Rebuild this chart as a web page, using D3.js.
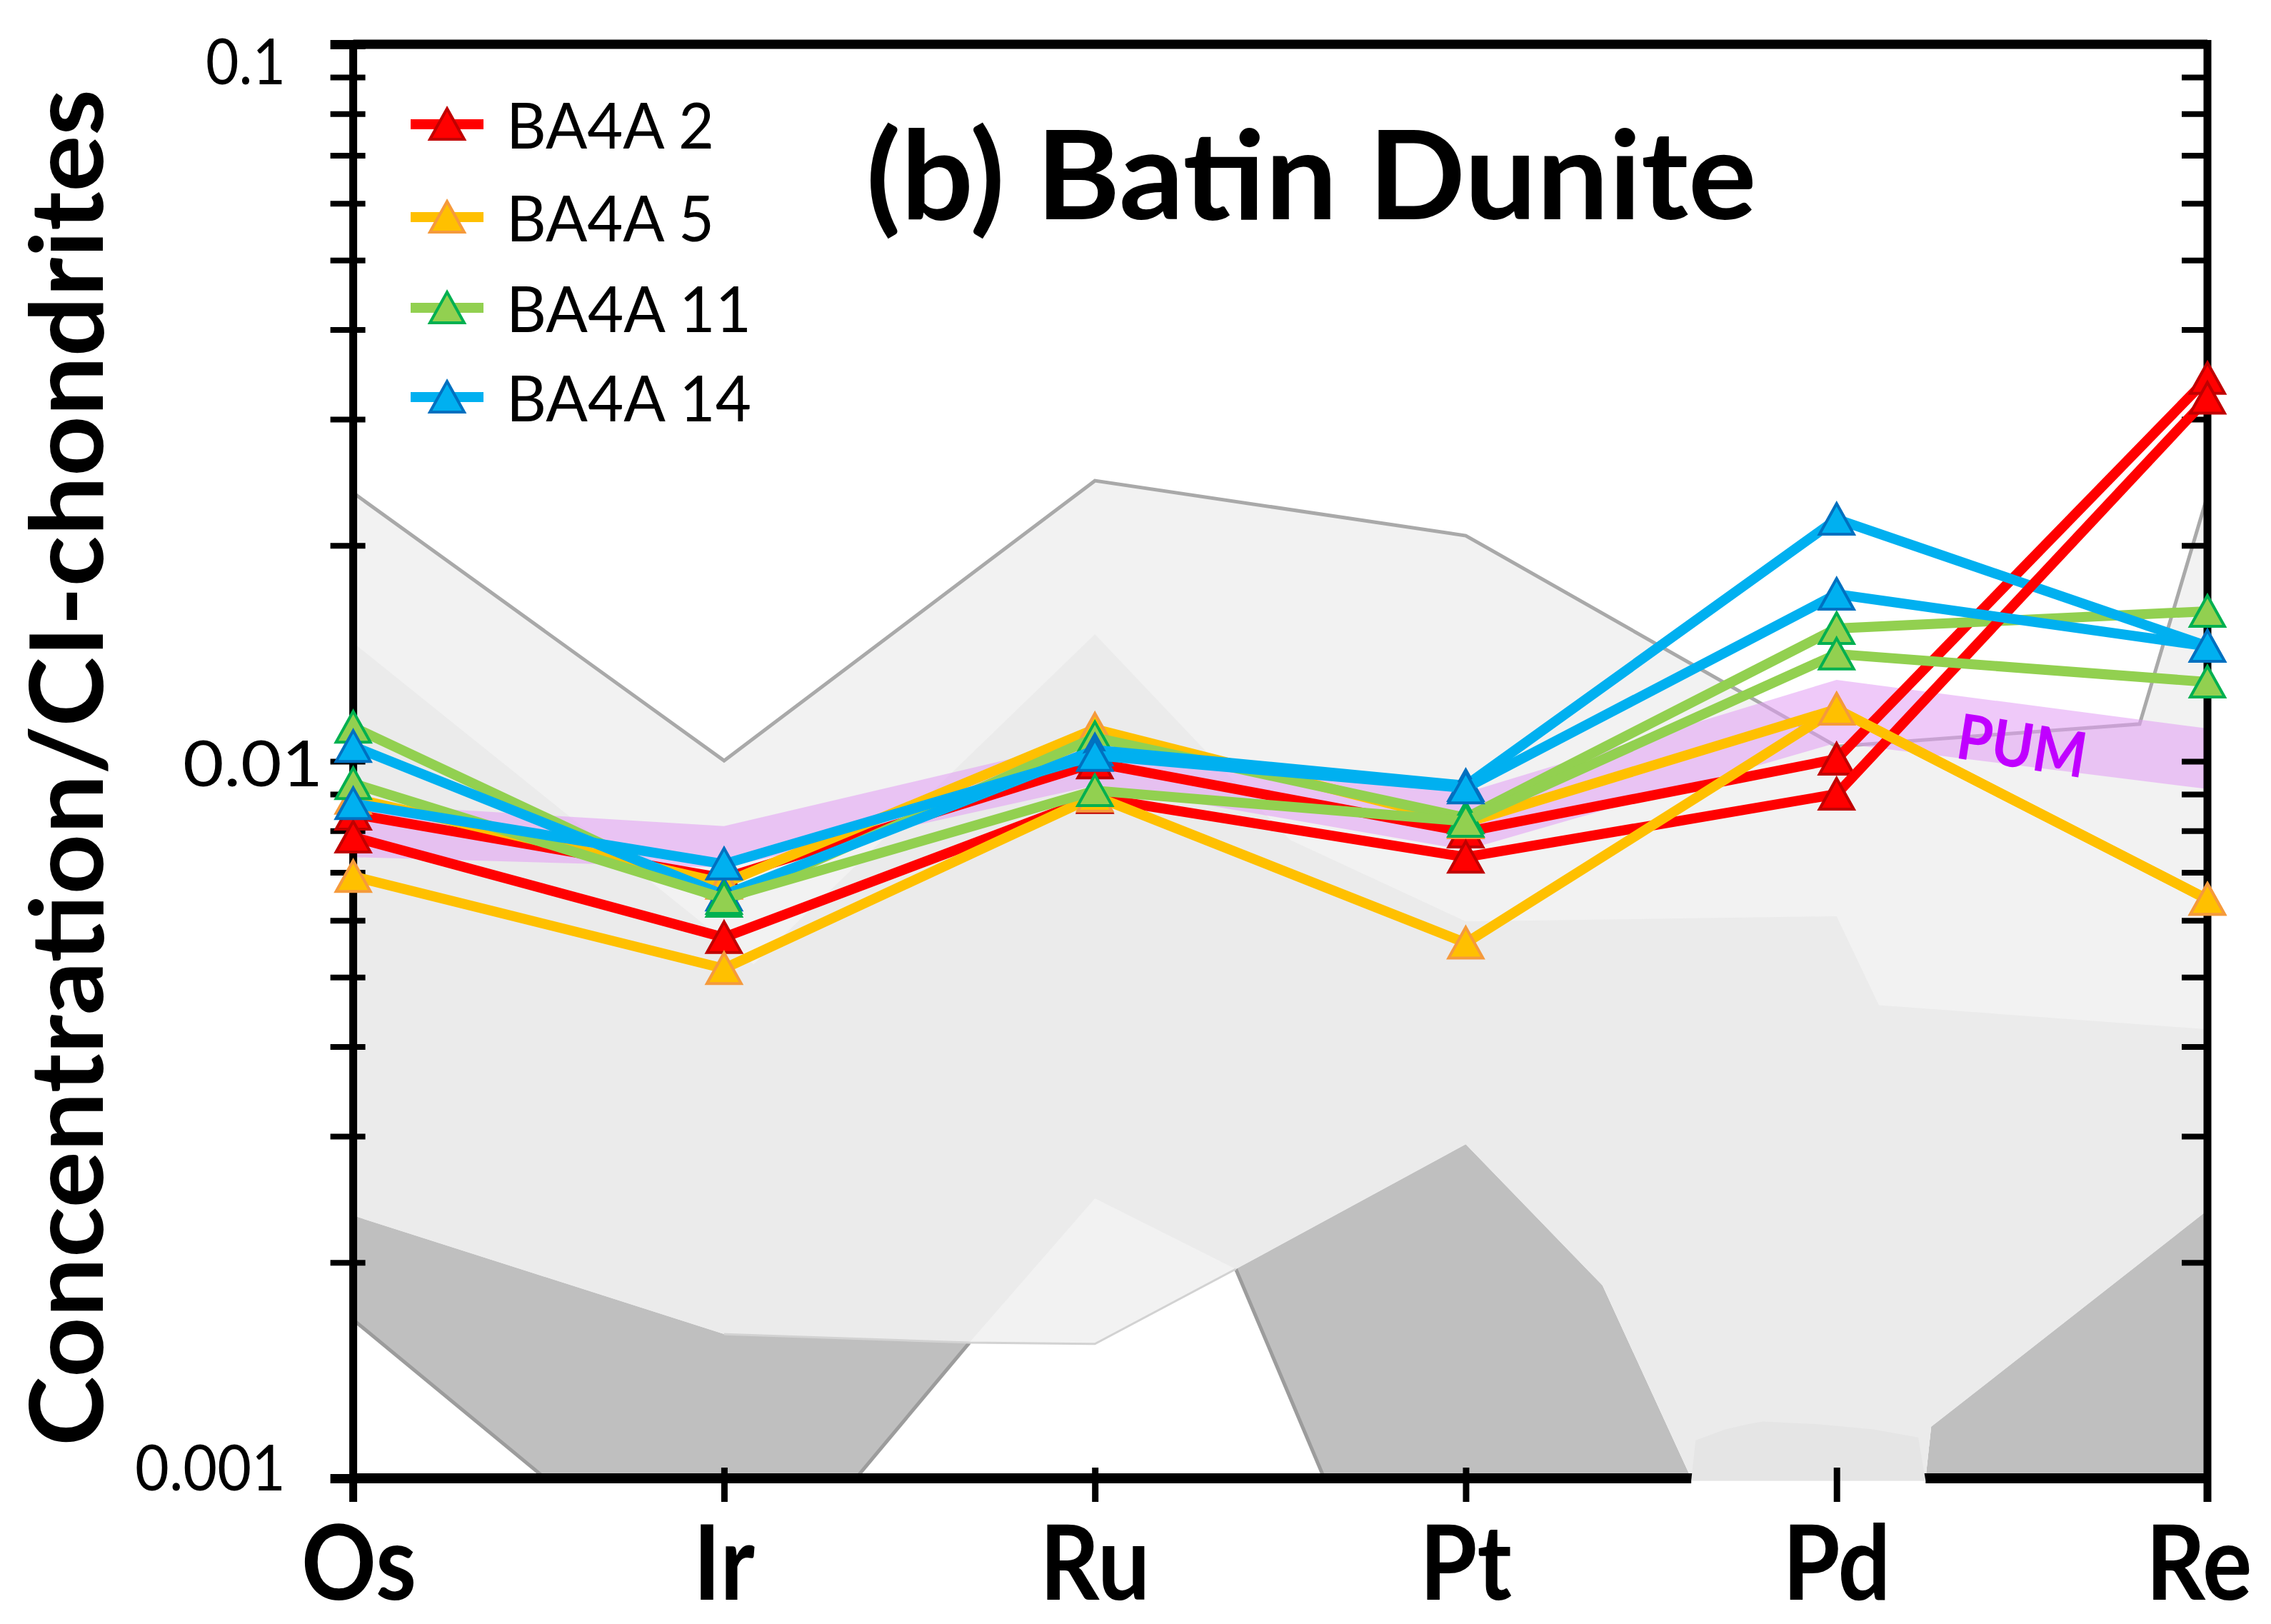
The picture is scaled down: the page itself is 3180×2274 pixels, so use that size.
<!DOCTYPE html>
<html><head><meta charset="utf-8">
<script src="https://cdn.jsdelivr.net/npm/d3@7"></script>
<style>body{margin:0;background:#fff;} svg{display:block;}</style>
</head><body>
<svg id="chart" width="3180" height="2274"></svg>
<script>
// ---------------- DATA ----------------
const elements = ["Os", "Ir", "Ru", "Pt", "Pd", "Re"];
const legendNames = ["BA4A 2", "BA4A 5", "BA4A 11", "BA4A 14"];
const yTickLabels = ["0.1", "0.01", "0.001"];
const yTickLabelValues = [0.1, 0.01, 0.001];

// two analyses per sample
const ba4a2_a  = [0.00844, 0.00687, 0.00995, 0.00797, 0.01007, 0.0342];
const ba4a2_b  = [0.00784, 0.00568, 0.00890, 0.00735, 0.00900, 0.0321];
const ba4a5_a  = [0.00888, 0.00676, 0.01109, 0.00821, 0.01182, 0.00642];
const ba4a5_b  = [0.00691, 0.00514, 0.00894, 0.00558, 0.01182, 0.00642];
const ba4a11_a = [0.01116, 0.00638, 0.01079, 0.00834, 0.01532, 0.01619];
const ba4a11_b = [0.00931, 0.00644, 0.00910, 0.00825, 0.01411, 0.01290];
const ba4a14_a = [0.01049, 0.00651, 0.01037, 0.00925, 0.02176, 0.01447];
const ba4a14_b = [0.00873, 0.00719, 0.01019, 0.00918, 0.01710, 0.01447];

// PUM band (upper / lower)
const pumUpper = [0.00873, 0.00812, 0.01074, 0.00904, 0.01299, 0.01111];
const pumLower = [0.00735, 0.00711, 0.00925, 0.00752, 0.01061, 0.00915];

// background fields: [element position, value]
const field1Upper = [[0,0.02368],[1,0.01002],[2,0.02462],[3,0.02064],[4,0.01049],[4.817,0.01127],[5,0.02347]];
const field1Lower = [[5,0.002364],[4.255,0.00118],[4.24,0.001],[3.608,0.001],[3.369,0.001857],[3,0.002924],[2.38,0.001958],[2,0.00154],[1.6615,0.001546],[1,0.001589],[0,0.002325]];
const field2Upper = [[0,0.01463],[1.08,0.00521],[2,0.01504],[2.526,0.00777],[3,0.00598],[4,0.00608],[4.114,0.00457],[5,0.00423]];
const field2Lower = [[5,0.002364],[4.255,0.00118],[4.24,0.001],[3.608,0.001],[3.369,0.001857],[3,0.002924],[2.38,0.001958],[2,0.002457],[1.6615,0.001546],[1,0.001589],[0,0.002325]];
const field1LowerEdge = [[1,0.001589],[1.6615,0.001546],[2,0.00154],[2.38,0.001958]];
const darkLeft  = [[0,0.0026],[1,0.0018],[1.75,0.0018],[1.6615,0.001546],[1.3554,0.001],[0.5179,0.001],[0,0.001664]];
const darkMid   = [[2.3,0.0023],[3,0.0032],[3.369,0.001857],[3.608,0.001],[2.6184,0.001],[2.38,0.001958]];
const darkRight = [[4.2,0.0014],[5,0.0026],[5,0.001],[4.24,0.001],[4.255,0.00118]];
const darkEdges = [
  [[0,0.001664],[0.5179,0.001]],
  [[1.3554,0.001],[1.6615,0.001546]],
  [[2.38,0.001958],[2.6184,0.001]]
];
const blob = [[3.608,0.000993],[3.62,0.00113],[3.70,0.00117],[3.76,0.00119],[3.80,0.0012],[3.95,0.00119],[4.10,0.00117],[4.22,0.00114],[4.24,0.000993]];

// ---------------- SETUP ----------------
const W = 3180, H = 2274;
const svg = d3.select("#chart");
svg.append("rect").attr("width", W).attr("height", H).attr("fill", "#fff");

const x = d3.scaleLinear().domain([0, 5]).range([494.6, 3091]);
const y = d3.scaleLog().domain([0.001, 0.1]).range([2070, 62]);

const lineP = d3.line().x(d => x(d[0])).y(d => y(d[1]));
const poly = pts => lineP(pts) + "Z";

const defs = svg.append("defs");
defs.append("clipPath").attr("id", "plotClip").append("rect")
  .attr("x", x(0)).attr("y", y(0.1))
  .attr("width", x(5) - x(0)).attr("height", y(0.001) - y(0.1));

// ---------------- BACKGROUND FIELDS ----------------
const bg = svg.append("g").attr("clip-path", "url(#plotClip)");
[darkLeft, darkMid, darkRight].forEach(p =>
  bg.append("path").attr("d", poly(p)).attr("fill", "#bfbfbf"));
darkEdges.forEach(e =>
  bg.append("path").attr("d", lineP(e)).attr("fill", "none")
    .attr("stroke", "#9c9c9c").attr("stroke-width", 5));
bg.append("path").attr("d", poly(field1Upper.concat(field1Lower))).attr("fill", "#f2f2f2");
bg.append("path").attr("d", poly(field2Upper.concat(field2Lower))).attr("fill", "#ebebeb");
bg.append("path").attr("d", lineP(field1LowerEdge)).attr("fill", "none")
  .attr("stroke", "#d2d2d2").attr("stroke-width", 3);
bg.append("path").attr("d", lineP(field1Upper)).attr("fill", "none")
  .attr("stroke", "#a9a9a9").attr("stroke-width", 5).attr("stroke-linejoin", "miter");

// PUM band
const pumArea = d3.area()
  .x((d, i) => x(i))
  .y0((d, i) => y(pumLower[i]))
  .y1((d, i) => y(pumUpper[i]));
bg.append("path").attr("d", pumArea(elements)).attr("fill", "#e29cf4").attr("fill-opacity", 0.55);

// PUM label
const pumPos = [4.5, 0.01052];
svg.append("text")
  .attr("transform", `translate(${x(pumPos[0])},${y(pumPos[1])}) rotate(9)`)
  .attr("text-anchor", "middle").attr("dy", "0.36em")
  .style("font-family", "Lato, 'Open Sans', sans-serif").style("font-weight", 700)
  .style("font-size", "88px").attr("fill", "#c000ff")
  .attr("textLength", 182).attr("lengthAdjust", "spacingAndGlyphs")
  .text("PUM");

// ---------------- AXES / FRAME ----------------
const frame = svg.append("g").attr("stroke", "#000").attr("stroke-linecap", "butt");
frame.append("line").attr("x1", x(0)).attr("x2", x(5)).attr("y1", y(0.1)).attr("y2", y(0.1)).attr("stroke-width", 13);
frame.append("line").attr("x1", x(0)).attr("x2", x(5)).attr("y1", y(0.001)).attr("y2", y(0.001)).attr("stroke-width", 14);
frame.append("line").attr("x1", x(0)).attr("x2", x(0)).attr("y1", y(0.1) - 6).attr("y2", y(0.001) + 33).attr("stroke-width", 11);
frame.append("line").attr("x1", x(5)).attr("x2", x(5)).attr("y1", y(0.1) - 6).attr("y2", y(0.001) + 33).attr("stroke-width", 11);

// light blob over the bottom axis near Pd
svg.append("rect")
  .attr("x", x(3.608)).attr("width", x(4.24) - x(3.608))
  .attr("y", y(0.000993)).attr("height", 6).attr("fill", "#fff");
svg.append("path").attr("d", poly(blob)).attr("fill", "#e5e5e5");

const yTicks = y.ticks();
const leftAxis = svg.append("g").attr("transform", `translate(${x(0)},0)`)
  .call(d3.axisLeft(y).tickValues(yTicks).tickSize(32).tickFormat(""));
leftAxis.select(".domain").remove();
leftAxis.selectAll(".tick line").attr("x1", 17).attr("stroke", "#000").attr("stroke-width", 8);
leftAxis.selectAll(".tick").filter(d => d === 0.1 || d === 0.001).select("line").attr("stroke-width", 13);

const rightAxis = svg.append("g").attr("transform", `translate(${x(5)},0)`)
  .call(d3.axisLeft(y).tickValues(yTicks.filter(d => d > 0.001 && d < 0.1)).tickSize(36).tickFormat(""));
rightAxis.select(".domain").remove();
rightAxis.selectAll(".tick line").attr("stroke", "#000").attr("stroke-width", 8);

const bottomAxis = svg.append("g").attr("transform", `translate(0,${y(0.001)})`)
  .call(d3.axisBottom(x).tickValues([1, 2, 3, 4]).tickSize(33).tickFormat(""));
bottomAxis.select(".domain").remove();
bottomAxis.selectAll(".tick line").attr("y1", -15).attr("stroke", "#000").attr("stroke-width", 9);

// y tick labels
const labelDy = [56, 35, 17];
const labelRight = [400, 452, 400];
const labelW = [112, 196, 211];
yTickLabelValues.forEach((v, i) => {
  svg.append("text")
    .attr("x", labelRight[i]).attr("y", y(v) + labelDy[i])
    .attr("text-anchor", "end")
    .style("font-family", "Lato, 'Open Sans', sans-serif").style("font-size", "90px")
    .attr("fill", "#000")
    .attr("textLength", labelW[i]).attr("lengthAdjust", "spacingAndGlyphs")
    .text(yTickLabels[i]);
});

// x category labels
const labelShift = [8, 0, 0, 0, 0, -12];
elements.forEach((e, i) => {
  const t = svg.append("text")
    .attr("x", x(i) + labelShift[i]).attr("y", 2240)
    .attr("text-anchor", "middle")
    .style("font-family", "Lato, 'Open Sans', sans-serif").style("font-weight", 700)
    .style("font-size", "146px").attr("fill", "#000").text(e);
  const w = t.node().getComputedTextLength();
  t.attr("textLength", w * 0.89).attr("lengthAdjust", "spacingAndGlyphs");
});

// y title
svg.append("text")
  .attr("transform", "translate(144,1075) rotate(-90)")
  .attr("text-anchor", "middle")
  .style("font-family", "Lato, 'Open Sans', sans-serif").style("font-weight", 700)
  .style("font-size", "142px").attr("fill", "#000")
  .attr("textLength", 1900).attr("lengthAdjust", "spacingAndGlyphs")
  .text("Concentration/CI-chondrites");

// title
svg.append("text")
  .attr("x", 1836).attr("y", 307).attr("text-anchor", "middle")
  .style("font-family", "Lato, 'Open Sans', sans-serif").style("font-weight", 700)
  .style("font-size", "172px").attr("fill", "#000")
  .attr("textLength", 1247).attr("lengthAdjust", "spacingAndGlyphs")
  .text("(b) Batin Dunite");

// ---------------- DATA SERIES ----------------
const styles = {
  red:    {line: "#ff0000", fill: "#ff0000", stroke: "#c00000"},
  orange: {line: "#ffc000", fill: "#ffc000", stroke: "#f59a3c"},
  green:  {line: "#92d050", fill: "#92d050", stroke: "#00b050"},
  blue:   {line: "#00b0f0", fill: "#00b0f0", stroke: "#0070c0"}
};
const series = [
  {values: ba4a2_a,  c: "red"},
  {values: ba4a5_a,  c: "orange"},
  {values: ba4a11_a, c: "green"},
  {values: ba4a14_a, c: "blue"},
  {values: ba4a2_b,  c: "red"},
  {values: ba4a5_b,  c: "orange"},
  {values: ba4a11_b, c: "green"},
  {values: ba4a14_b, c: "blue"}
];
const tri = "M0,-22L24,21L-24,21Z";
const valLine = d3.line().x((d, i) => x(i)).y(d => y(d));
const dataG = svg.append("g");
series.forEach(s => {
  const st = styles[s.c];
  const g = dataG.append("g");
  g.append("path").attr("d", valLine(s.values)).attr("fill", "none")
    .attr("stroke", st.line).attr("stroke-width", 14).attr("stroke-linejoin", "miter");
  g.selectAll("path.m").data(s.values).join("path").attr("class", "m")
    .attr("d", tri)
    .attr("transform", (d, i) => `translate(${x(i)},${y(d)})`)
    .attr("fill", st.fill).attr("stroke", st.stroke).attr("stroke-width", 4);
});

// ---------------- LEGEND ----------------
const legendColors = ["red", "orange", "green", "blue"];
const legendRowY = [174, 304, 431, 556];
const legendW = [291, 291, 343, 343];
legendNames.forEach((n, i) => {
  const st = styles[legendColors[i]];
  const gy = legendRowY[i];
  svg.append("line").attr("x1", 575).attr("x2", 677).attr("y1", gy).attr("y2", gy)
    .attr("stroke", st.line).attr("stroke-width", 14);
  svg.append("path").attr("d", tri).attr("transform", `translate(626,${gy})`)
    .attr("fill", st.fill).attr("stroke", st.stroke).attr("stroke-width", 4);
  svg.append("text").attr("x", 709).attr("y", gy + 34)
    .style("font-family", "Lato, 'Open Sans', sans-serif").style("font-size", "90px")
    .attr("fill", "#000").attr("textLength", legendW[i]).attr("lengthAdjust", "spacingAndGlyphs")
    .text(n);
});
</script>
</body></html>
